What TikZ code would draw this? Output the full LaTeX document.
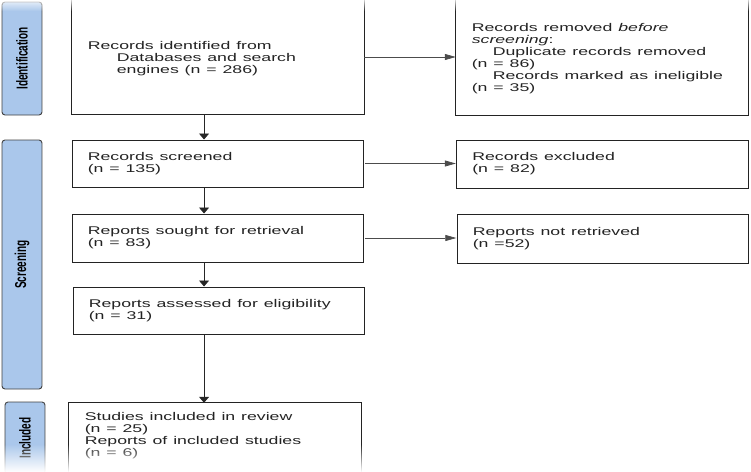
\documentclass[tikz,border=0pt]{standalone}
\usepackage{fontspec}
\setmainfont{Liberation Sans}
\usetikzlibrary{arrows.meta,fadings}
\definecolor{labblue}{RGB}{170,199,235}
\definecolor{ink}{RGB}{35,35,35}
\begin{document}
\begin{tikzpicture}[x=0.63291pt, y=-1pt, xscale=1.58,
  every node/.style={transform shape},
  box/.style={draw=none, rectangle, align=left, inner xsep=10pt, inner ysep=0pt,
    text width=164.8pt, minimum width=184.8pt,
    font=\fontsize{11.2pt}{12pt}\selectfont, text=ink},
  frame/.style={draw=ink, line width=1pt},
  boxd/.style={box, draw=ink, line width=1pt},
  lab/.style={rotate=90, draw=black!75, line width=0.9pt, rounded corners=3pt,
    fill=labblue, font=\bfseries\fontsize{10pt}{10pt}\selectfont, inner sep=0pt,
    minimum height=25.3pt, text=black},
  varr/.style={draw=black!85, line width=0.8pt, -{Triangle[length=6pt,width=10pt]}},
  harr/.style={draw=black!70, line width=0.7pt, -{Triangle[length=11pt,width=6pt]}}]
\useasboundingbox (0,0) rectangle (751,471);

% phase labels
\node[lab, minimum width=113pt] (idl) at (22,58.5) {Identification};
\node[lab, minimum width=249pt] (scl) at (22,264.5) {Screening};
\node[lab, minimum width=72pt] (inl) at (25,438) {Included};

% main column
\node[box, minimum height=111pt] (b1) at (218,58.5) {Records identified from\\
\hspace*{18.4pt}Databases and search\\
\hspace*{18.4pt}engines (n = 286)};
\node[boxd, minimum height=47pt] (b2) at (218,163.5) {Records screened\\(n = 135)};
\node[boxd, minimum height=48pt] (b3) at (218,238) {Reports sought for retrieval\\(n = 83)};
\node[boxd, minimum height=47pt] (b4) at (219,310.5) {Reports assessed for eligibility\\(n = 31)};
\node[box, minimum height=66pt] (b5) at (215,436) {Studies included in review\\(n = 25)\\Reports of included studies\\(n = 6)};

% right column
\node[box, minimum height=112pt] (r1) at (602,59) {Records removed \textit{before}\\
\textit{screening}:\\
\hspace*{13.3pt}Duplicate records removed\\
(n = 86)\\
\hspace*{13.3pt}Records marked as ineligible\\
(n = 35)};
\node[boxd, minimum height=48pt] (r2) at (602.5,164) {Records excluded\\(n = 82)};
\node[boxd, minimum height=49pt] (r3) at (603,238.5) {Reports not retrieved\\(n =52)};

% open frames
\draw[frame] ([yshift=12pt]b1.north west) -- (b1.south west) -- (b1.south east) -- ([yshift=12pt]b1.north east);
\draw[frame] ([yshift=12pt]r1.north west) -- (r1.south west) -- (r1.south east) -- ([yshift=12pt]r1.north east);
\draw[frame] ([yshift=-12pt]b5.south west) -- (b5.north west) -- (b5.north east) -- ([yshift=-12pt]b5.south east);

% connectors
\coordinate (ax) at (204,0);
\coordinate (hy1) at (0,57);
\draw[varr] (b1.south -| ax) -- (b2.north -| ax);
\draw[varr] (b2.south -| ax) -- (b3.north -| ax);
\draw[varr] (b3.south -| ax) -- (b4.north -| ax);
\draw[varr] (b4.south -| ax) -- (b5.north -| ax);
\draw[harr] (b1.east |- hy1) -- (r1.west |- hy1);
\draw[harr] (b2.east) -- (r2.west |- b2.east);
\draw[harr] (b3.east) -- (r3.west |- b3.east);

% fades at the edges
\fill[white, path fading=south] (0,-3) rectangle (751,11);
\fill[white, path fading=north] (0,444) rectangle (751,472);
\end{tikzpicture}
\end{document}
